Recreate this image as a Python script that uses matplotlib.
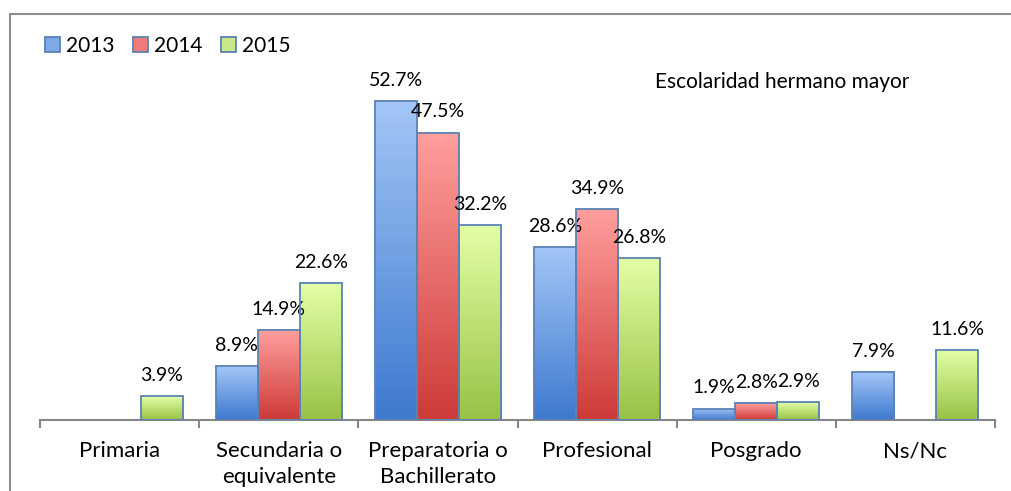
import numpy as np
import matplotlib
matplotlib.use("Agg")
import matplotlib.pyplot as plt
from matplotlib.patches import Rectangle
from matplotlib.lines import Line2D
from matplotlib.colors import LinearSegmentedColormap

plt.rcParams['font.family'] = ['Lato', 'DejaVu Sans']

categorias = ['Primaria', 'Secundaria o\nequivalente', 'Preparatoria o\nBachillerato',
              'Profesional', 'Posgrado', 'Ns/Nc']
anios = ['2013', '2014', '2015']
v2013 = [np.nan, 8.9, 52.7, 28.6, 1.9, 7.9]
v2014 = [np.nan, 14.9, 47.5, 34.9, 2.8, np.nan]
v2015 = [3.9, 22.6, 32.2, 26.8, 2.9, 11.6]
titulo = 'Escolaridad hermano mayor'

# colores (arriba claro, abajo oscuro)
grad = [('#a3c6f7', '#3e79cf'), ('#ff9f9d', '#cd3a37'), ('#e3ffa6', '#98c246')]
borde = '#5b82b5'

W, H = 1011, 491
fig = plt.figure(figsize=(W / 100, H / 100), dpi=100)
ax = fig.add_axes([40 / W, (H - 420) / H, 955 / W, 390 / H])

x = np.arange(len(categorias))
ancho = 0.264
series = [v2013, v2014, v2015]
gy = np.linspace(1, 0, 256).reshape(-1, 1)

for k, vals in enumerate(series):
    cmap = LinearSegmentedColormap.from_list('g%d' % k, [grad[k][1], grad[k][0]])
    pos = x + (k - 1) * ancho
    for xi, v in zip(pos, vals):
        if np.isnan(v):
            continue
        b = Rectangle((xi - ancho / 2, 0), ancho, v, facecolor='none',
                      edgecolor=borde, linewidth=1.3, zorder=3)
        ax.add_patch(b)
        im = ax.imshow(gy, cmap=cmap, aspect='auto', zorder=2,
                       extent=(xi - ancho / 2, xi + ancho / 2, 0, v))
        im.set_clip_path(b)
        ax.annotate('%.1f%%' % v, (xi, v), xytext=(0, 11), textcoords='offset points',
                    ha='center', va='baseline', fontsize=14)

ax.set_xlim(-0.5, len(categorias) - 0.5)
ax.set_ylim(0, 390 / 6.05)
for s in ['top', 'right', 'left']:
    ax.spines[s].set_visible(False)
ax.spines['bottom'].set_color('#868686')
ax.spines['bottom'].set_linewidth(1.5)
ax.set_yticks([])
ax.set_xticks(np.arange(len(categorias) + 1) - 0.5)
ax.set_xticklabels([])
ax.tick_params(axis='x', length=6, width=1.5, color='#868686')
for xi, c in zip(x, categorias):
    ax.text(xi, -3.5, c, ha='center', va='top', fontsize=16, linespacing=1.35)

ax.text(782 / W, 1 - 88 / H, titulo, transform=fig.transFigure, ha='center',
        va='baseline', fontsize=15)

handles = [Rectangle((0, 0), 1, 1, facecolor=c, edgecolor=borde, linewidth=1.3)
           for c in ['#7fa9e6', '#ef7b79', '#c8e889']]
fig.legend(handles, anios, loc='upper left', bbox_to_anchor=(45 / W, 1 - 36 / H),
           ncol=3, frameon=False, fontsize=15, handlelength=0.7, handleheight=0.7,
           handletextpad=0.3, columnspacing=0.9, borderaxespad=0, borderpad=0)

# marco exterior
fig.add_artist(Line2D([10 / W, 10 / W, 1.0], [0, 1 - 14 / H, 1 - 14 / H],
                      transform=fig.transFigure, color='#8c8c8c', linewidth=1.5))

fig.savefig('out.png', dpi=100)
